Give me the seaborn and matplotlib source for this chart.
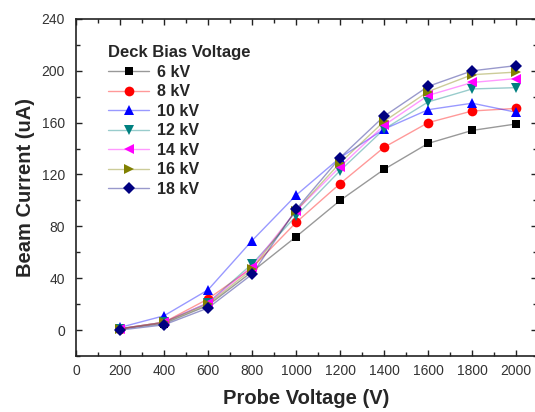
import matplotlib
matplotlib.use("Agg")
import matplotlib.pyplot as plt
from matplotlib.colors import to_rgba
from matplotlib.lines import Line2D
from matplotlib.ticker import MultipleLocator
import numpy as np
import pandas as pd
import seaborn as sns

# probe voltage (V)
probe_v = [200, 400, 600, 800, 1000, 1200, 1400, 1600, 1800, 2000]

# beam current (uA) per deck bias voltage
i_6kv = [1, 5, 19, 45, 72, 100, 124, 144, 154, 159]
i_8kv = [1, 6, 24, 48, 83, 113, 141, 160, 169, 171]
i_10kv = [2, 11, 31, 69, 104, 133, 155, 170, 175, 168]
i_12kv = [1, 6, 21, 51, 88, 123, 155, 176, 186, 187]
i_14kv = [1, 6, 21, 49, 92, 126, 158, 181, 191, 194]
i_16kv = [1, 6, 20, 47, 92, 129, 161, 184, 197, 199]
i_18kv = [0, 4, 17, 43, 93, 133, 165, 188, 200, 204]

labels = ["6 kV", "8 kV", "10 kV", "12 kV", "14 kV", "16 kV", "18 kV"]
series = [i_6kv, i_8kv, i_10kv, i_12kv, i_14kv, i_16kv, i_18kv]
colors = ["#000000", "#ff0000", "#0000ff", "#008080", "#ff00ff", "#808000", "#000080"]
markers = ["s", "o", "^", "v", "<", ">", "D"]
msizes = [6, 7, 7, 7, 7, 7, 6]

rows = []
for lab, vals in zip(labels, series):
    for v, c in zip(probe_v, vals):
        rows.append({"Probe Voltage (V)": v, "Beam Current (uA)": c, "Deck": lab})
df = pd.DataFrame(rows)

sns.set_theme(style="ticks")
plt.rcParams["font.family"] = ["Liberation Sans", "DejaVu Sans"]

fig = plt.figure(figsize=(5.35, 4.12), dpi=100)
ax = fig.add_axes([0.142, 0.136, 0.862, 0.818])

handles = []
for lab, col, mk, ms in zip(labels, colors, markers, msizes):
    sub = df[df["Deck"] == lab]
    sns.lineplot(data=sub, x="Probe Voltage (V)", y="Beam Current (uA)",
                 color=col, alpha=0.4, linewidth=1.0, ax=ax, legend=False)
    ax.plot(sub["Probe Voltage (V)"], sub["Beam Current (uA)"], linestyle="none",
            marker=mk, markersize=ms, color=col, markeredgewidth=0, zorder=3)
    handles.append(Line2D([], [], color=to_rgba(col, 0.4), marker=mk, markersize=ms,
                          markeredgewidth=0, linewidth=1.0,
                          markerfacecolor=col))

ax.set_xlim(0, 2095)
ax.set_ylim(-20, 240)
ax.xaxis.set_major_locator(MultipleLocator(200))
ax.xaxis.set_minor_locator(MultipleLocator(100))
ax.yaxis.set_major_locator(MultipleLocator(40))
ax.yaxis.set_minor_locator(MultipleLocator(20))
ax.tick_params(which="both", direction="in", top=True, right=True,
               labelsize=10, labelcolor="#333333", color="#222222")
ax.tick_params(which="major", length=4, width=1)
ax.tick_params(which="minor", length=3, width=1)
ax.tick_params(axis="y", which="both", pad=8)
ax.tick_params(axis="x", which="both", pad=6)
for s in ax.spines.values():
    s.set_linewidth(1.2)
    s.set_color("#222222")

ax.set_xlabel("Probe Voltage (V)", fontsize=14.5, fontweight="bold", labelpad=8)
ax.set_ylabel("Beam Current (uA)", fontsize=14.5, fontweight="bold", labelpad=5)

leg = ax.legend(handles, labels, title="Deck Bias Voltage", loc="upper left",
                bbox_to_anchor=(0.045, 0.955), frameon=False,
                prop={"weight": "bold", "size": 11.5},
                title_fontproperties={"weight": "bold", "size": 12},
                handlelength=2.6, labelspacing=0.28, borderpad=0.2,
                handletextpad=0.5)
leg._legend_box.align = "left"

fig.savefig("out.png", dpi=100)
